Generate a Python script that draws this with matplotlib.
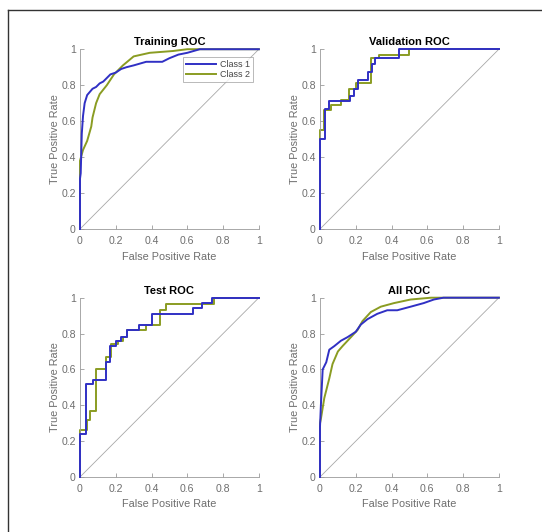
import matplotlib
matplotlib.use("Agg")
import matplotlib.pyplot as plt
from matplotlib.lines import Line2D

plt.rcParams['font.family'] = ['Liberation Sans', 'DejaVu Sans']

# ROC points, (fpr, tpr) per class and panel
train_c1_fpr = [0, 0, 0.004, 0.01, 0.017, 0.026, 0.04, 0.07, 0.09, 0.11, 0.13, 0.17, 0.2, 0.23, 0.26, 0.3, 0.37, 0.42, 0.46, 0.5, 0.55, 0.6, 0.67, 1.0]
train_c1_tpr = [0, 0.28, 0.31, 0.53, 0.63, 0.70, 0.745, 0.78, 0.79, 0.81, 0.82, 0.86, 0.87, 0.89, 0.90, 0.91, 0.93, 0.93, 0.93, 0.95, 0.97, 0.98, 1.0, 1.0]
train_c2_fpr = [0, 0, 0.017, 0.04, 0.063, 0.07, 0.09, 0.11, 0.15, 0.19, 0.24, 0.30, 0.39, 0.52, 0.6, 1.0]
train_c2_tpr = [0, 0.38, 0.44, 0.49, 0.57, 0.62, 0.70, 0.75, 0.80, 0.86, 0.91, 0.96, 0.98, 0.99, 1.0, 1.0]

val_c1_fpr = [0, 0, 0.028, 0.028, 0.05, 0.05, 0.17, 0.17, 0.19, 0.19, 0.21, 0.21, 0.27, 0.27, 0.29, 0.29, 0.31, 0.31, 0.44, 0.44, 1.0]
val_c1_tpr = [0, 0.5, 0.5, 0.67, 0.67, 0.71, 0.71, 0.74, 0.74, 0.78, 0.78, 0.83, 0.83, 0.875, 0.875, 0.92, 0.92, 0.95, 0.95, 1.0, 1.0]
val_c2_fpr = [0, 0, 0.024, 0.024, 0.06, 0.06, 0.12, 0.12, 0.16, 0.16, 0.2, 0.2, 0.285, 0.285, 0.33, 0.33, 0.5, 0.5, 1.0]
val_c2_tpr = [0, 0.55, 0.55, 0.66, 0.66, 0.69, 0.69, 0.72, 0.72, 0.78, 0.78, 0.81, 0.81, 0.95, 0.95, 0.967, 0.967, 1.0, 1.0]

test_c1_fpr = [0, 0, 0.035, 0.035, 0.073, 0.073, 0.147, 0.147, 0.166, 0.166, 0.2, 0.2, 0.23, 0.23, 0.26, 0.26, 0.33, 0.33, 0.4, 0.4, 0.63, 0.63, 0.68, 0.68, 0.74, 0.74, 1.0]
test_c1_tpr = [0, 0.24, 0.24, 0.52, 0.52, 0.54, 0.54, 0.64, 0.64, 0.73, 0.73, 0.76, 0.76, 0.78, 0.78, 0.82, 0.82, 0.85, 0.85, 0.91, 0.91, 0.94, 0.94, 0.97, 0.97, 1.0, 1.0]
test_c2_fpr = [0, 0, 0.04, 0.04, 0.058, 0.058, 0.09, 0.09, 0.147, 0.147, 0.175, 0.175, 0.21, 0.21, 0.24, 0.24, 0.26, 0.26, 0.37, 0.37, 0.45, 0.45, 0.48, 0.48, 0.75, 0.75, 1.0]
test_c2_tpr = [0, 0.26, 0.26, 0.32, 0.32, 0.37, 0.37, 0.60, 0.60, 0.67, 0.67, 0.74, 0.74, 0.76, 0.76, 0.78, 0.78, 0.82, 0.82, 0.85, 0.85, 0.93, 0.93, 0.966, 0.966, 1.0, 1.0]

all_c1_fpr = [0, 0, 0.005, 0.015, 0.035, 0.052, 0.08, 0.117, 0.154, 0.2, 0.228, 0.265, 0.32, 0.376, 0.432, 0.507, 0.58, 0.637, 0.69, 1.0]
all_c1_tpr = [0, 0.28, 0.40, 0.60, 0.64, 0.71, 0.73, 0.76, 0.78, 0.81, 0.85, 0.88, 0.91, 0.93, 0.93, 0.95, 0.97, 0.99, 1.0, 1.0]
all_c2_fpr = [0, 0, 0.006, 0.024, 0.052, 0.07, 0.1, 0.126, 0.173, 0.21, 0.238, 0.284, 0.34, 0.414, 0.507, 0.62, 1.0]
all_c2_tpr = [0, 0.30, 0.33, 0.44, 0.55, 0.63, 0.70, 0.73, 0.78, 0.82, 0.87, 0.92, 0.95, 0.97, 0.99, 1.0, 1.0]

titles = ["Training ROC", "Validation ROC", "Test ROC", "All ROC"]
panels = [
    (train_c1_fpr, train_c1_tpr, train_c2_fpr, train_c2_tpr),
    (val_c1_fpr, val_c1_tpr, val_c2_fpr, val_c2_tpr),
    (test_c1_fpr, test_c1_tpr, test_c2_fpr, test_c2_tpr),
    (all_c1_fpr, all_c1_tpr, all_c2_fpr, all_c2_tpr),
]
class_names = ["Class 1", "Class 2"]
ticks = [0, 0.2, 0.4, 0.6, 0.8, 1]
tick_labels = ["0", "0.2", "0.4", "0.6", "0.8", "1"]

blue = "#3030c4"
green = "#8a9c22"
axis_grey = "#9a9a9a"
text_grey = "#6e6e6e"

fig = plt.figure(figsize=(5.42, 5.32), dpi=100)
rects = [
    [0.1476, 0.5695, 0.330, 0.338],
    [0.5904, 0.5695, 0.330, 0.338],
    [0.1476, 0.1034, 0.330, 0.337],
    [0.5904, 0.1034, 0.330, 0.337],
]

for rect, title, (f1, t1, f2, t2) in zip(rects, titles, panels):
    ax = fig.add_axes(rect)
    ax.plot([0, 1], [0, 1], color="#a8a8a8", lw=0.6, zorder=1)
    ax.plot(f1, t1, color=blue, lw=1.4, label=class_names[0], zorder=3, clip_on=False)
    ax.plot(f2, t2, color=green, lw=1.4, label=class_names[1], zorder=2, clip_on=False)
    ax.set_xlim(0, 1)
    ax.set_ylim(0, 1)
    ax.set_xticks(ticks)
    ax.set_xticklabels(tick_labels)
    ax.set_yticks(ticks)
    ax.set_yticklabels(tick_labels)
    for s in ["top", "right"]:
        ax.spines[s].set_visible(False)
    for s in ["left", "bottom"]:
        ax.spines[s].set_color(axis_grey)
        ax.spines[s].set_linewidth(0.6)
    ax.tick_params(direction="in", length=3, width=0.6, color=axis_grey,
                   labelcolor=text_grey, labelsize=7.6)
    ax.tick_params(axis="x", pad=5)
    ax.tick_params(axis="y", pad=3)
    ax.set_xlabel("False Positive Rate", fontsize=7.8, color=text_grey, labelpad=4)
    ax.set_ylabel("True Positive Rate", fontsize=7.8, color=text_grey, labelpad=1)
    ax.set_title(title, fontsize=8, fontweight="bold", pad=3)
    if title == "Training ROC":
        leg = ax.legend(loc="upper right", bbox_to_anchor=(0.965, 0.955), fontsize=6.5,
                        frameon=True, fancybox=False, handlelength=3.4,
                        borderpad=0.3, labelspacing=0.15, handletextpad=0.4,
                        borderaxespad=0)
        leg.get_frame().set_edgecolor("#9a9a9a")
        leg.get_frame().set_linewidth(0.6)
        for txt in leg.get_texts():
            txt.set_color("#444444")

# frame lines along the left and top of the figure
fig.add_artist(Line2D([8 / 542, 8 / 542], [0, 1 - 10 / 532], color="#333333", lw=1.0))
fig.add_artist(Line2D([8 / 542, 1], [1 - 10 / 532, 1 - 10 / 532], color="#333333", lw=1.0))

fig.savefig("out.png", dpi=100)
